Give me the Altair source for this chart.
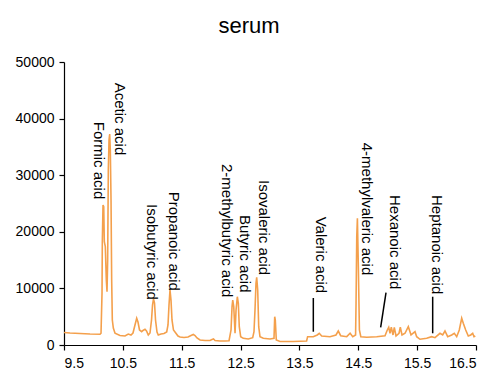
import altair as alt
import pandas as pd

# Chromatogram trace (retention time in min, intensity)
times = [9.500, 9.602, 9.772, 9.942, 10.112, 10.129, 10.146, 10.151, 10.163, 10.175,
         10.185, 10.202, 10.219, 10.231, 10.242, 10.253, 10.265, 10.276, 10.287, 10.299,
         10.310, 10.321, 10.338, 10.367, 10.451, 10.536, 10.592, 10.638, 10.672, 10.706,
         10.735, 10.757, 10.783, 10.820, 10.842, 10.876, 10.902, 10.932, 10.961, 10.987,
         11.004, 11.021, 11.038, 11.055, 11.080, 11.102, 11.148, 11.199, 11.245, 11.267,
         11.284, 11.301, 11.318, 11.335, 11.360, 11.386, 11.437, 11.471, 11.539, 11.607,
         11.658, 11.697, 11.726, 11.760, 11.811, 11.896, 11.981, 12.015, 12.040, 12.066,
         12.151, 12.236, 12.304, 12.338, 12.355, 12.367, 12.384, 12.406, 12.423, 12.445,
         12.462, 12.478, 12.502, 12.546, 12.631, 12.706, 12.728, 12.745, 12.762, 12.774,
         12.791, 12.808, 12.830, 12.886, 13.000, 13.068, 13.080, 13.090, 13.107, 13.170,
         13.396, 13.622, 13.639, 13.735, 13.803, 13.837, 13.878, 14.019, 14.121, 14.160,
         14.201, 14.304, 14.361, 14.406, 14.454, 14.462, 14.474, 14.485, 14.502, 14.519,
         14.543, 14.645, 14.813, 14.954, 14.993, 15.017, 15.039, 15.061, 15.090, 15.112,
         15.141, 15.192, 15.214, 15.243, 15.294, 15.350, 15.396, 15.464, 15.492, 15.548,
         15.662, 15.747, 15.803, 15.888, 15.934, 15.973, 16.019, 16.087, 16.131, 16.172,
         16.216, 16.257, 16.284, 16.325, 16.369, 16.410, 16.444, 16.466, 16.488]
intensity = [2200, 2120, 2030, 1940, 1890, 2070, 9190, 18250, 24740, 24440,
             18250, 17370, 11480, 9420, 15020, 30920, 36220, 37280, 34450, 25620,
             11480, 4420, 3000, 2070, 1680, 1590, 1940, 1770, 2120, 3530,
             4720, 4060, 2650, 2350, 2560, 2770, 2470, 1770, 2120, 4420,
             7070, 8130, 7420, 4420, 2300, 1770, 1940, 2030, 2300, 3530,
             7070, 9720, 7950, 4420, 2650, 2300, 1590, 1410, 1330, 1410,
             1680, 1860, 1680, 1240, 880, 800, 800, 970, 1060, 800,
             710, 710, 760, 2650, 6770, 7950, 6770, 2070, 6180, 8530,
             7370, 3230, 1470, 1180, 1060, 1290, 2350, 6180, 10900, 11960,
             9720, 3230, 1470, 1180, 1060, 1180, 5000, 4420, 880, 620,
             620, 710, 1470, 1470, 1770, 2070, 1590, 1470, 1770, 2470,
             1640, 1470, 2070, 1470, 1770, 7420, 19130, 22390, 13250, 2650,
             1470, 1360, 1470, 1640, 2650, 3130, 2070, 3130, 1770, 3130,
             1590, 2070, 3130, 1770, 2070, 3230, 1770, 2350, 1470, 1010,
             1180, 1470, 1290, 2070, 1770, 2470, 1470, 1770, 2070, 1470,
             2650, 4720, 3830, 2650, 1590, 1770, 2070, 1470, 1590]

# Peak labels (text start point)
label_names = ["Formic acid", "Acetic acid", "Isobutyric acid", "Propanoic acid",
               "2-methylbutyric acid", "Butyric acid", "Isovaleric acid", "Valeric acid",
               "4-methylvaleric acid", "Hexanoic acid", "Heptanoic acid"]
label_t = [10.095, 10.451, 10.990, 11.369, 12.269, 12.575, 12.893, 13.861, 14.648, 15.118, 15.837]
label_v = [39450, 46340, 24910, 27085, 31980, 22970, 29150, 22670, 35740, 26500, 26500]

# Leader lines
lead_t = [13.736, 14.971, 15.764]
lead_v = [8300, 9240, 8530]
lead_t2 = [13.736, 14.880, 15.764]
lead_v2 = [2350, 3130, 2070]

x_ticks = [9.5, 10.5, 11.5, 12.5, 13.5, 14.5, 15.5, 16.5]
y_ticks = [0, 10000, 20000, 30000, 40000, 50000]

FONT = "Liberation Sans"

df = pd.DataFrame({"t": times, "v": intensity})
lab_df = pd.DataFrame({"name": label_names, "t": label_t, "v": label_v})
rule_df = pd.DataFrame({"t": lead_t, "v": lead_v, "t2": lead_t2, "v2": lead_v2})

xscale = alt.Scale(domain=[9.5, 16.5], nice=False, zero=False)
yscale = alt.Scale(domain=[0, 50000], nice=False)

line = alt.Chart(df).mark_line(color="#F4A04C", strokeWidth=1.6).encode(
    x=alt.X("t:Q", scale=xscale,
            axis=alt.Axis(values=x_ticks, format=".1f", title=None, labelPadding=6)),
    y=alt.Y("v:Q", scale=yscale,
            axis=alt.Axis(values=y_ticks, format="d", title=None, labelPadding=5)),
)

text = alt.Chart(lab_df).mark_text(
    angle=90, align="left", baseline="middle", fontSize=15, font=FONT, color="black"
).encode(x=alt.X("t:Q", scale=xscale), y=alt.Y("v:Q", scale=yscale), text="name:N")

rules = alt.Chart(rule_df).mark_rule(color="black", strokeWidth=1.5).encode(
    x=alt.X("t:Q", scale=xscale), y=alt.Y("v:Q", scale=yscale), x2="t2:Q", y2="v2:Q"
)

chart = alt.layer(line, rules, text).properties(
    width=412,
    height=283,
    autosize=alt.AutoSizeParams(type="none"),
    padding={"left": 56, "top": 54, "right": 14, "bottom": 28},
    title=alt.Title("serum", fontSize=22, font=FONT, fontWeight="normal", color="black",
                    offset=0, dx=-21, baseline="alphabetic"),
).configure_view(stroke=None).configure_axis(
    domainColor="black", tickColor="black", labelColor="black", labelFontSize=14,
    labelFont=FONT, grid=False, tickSize=5, domainWidth=1.2, tickWidth=1.2
)

chart.save("out.html", embed_options={"renderer": "svg", "actions": False})
